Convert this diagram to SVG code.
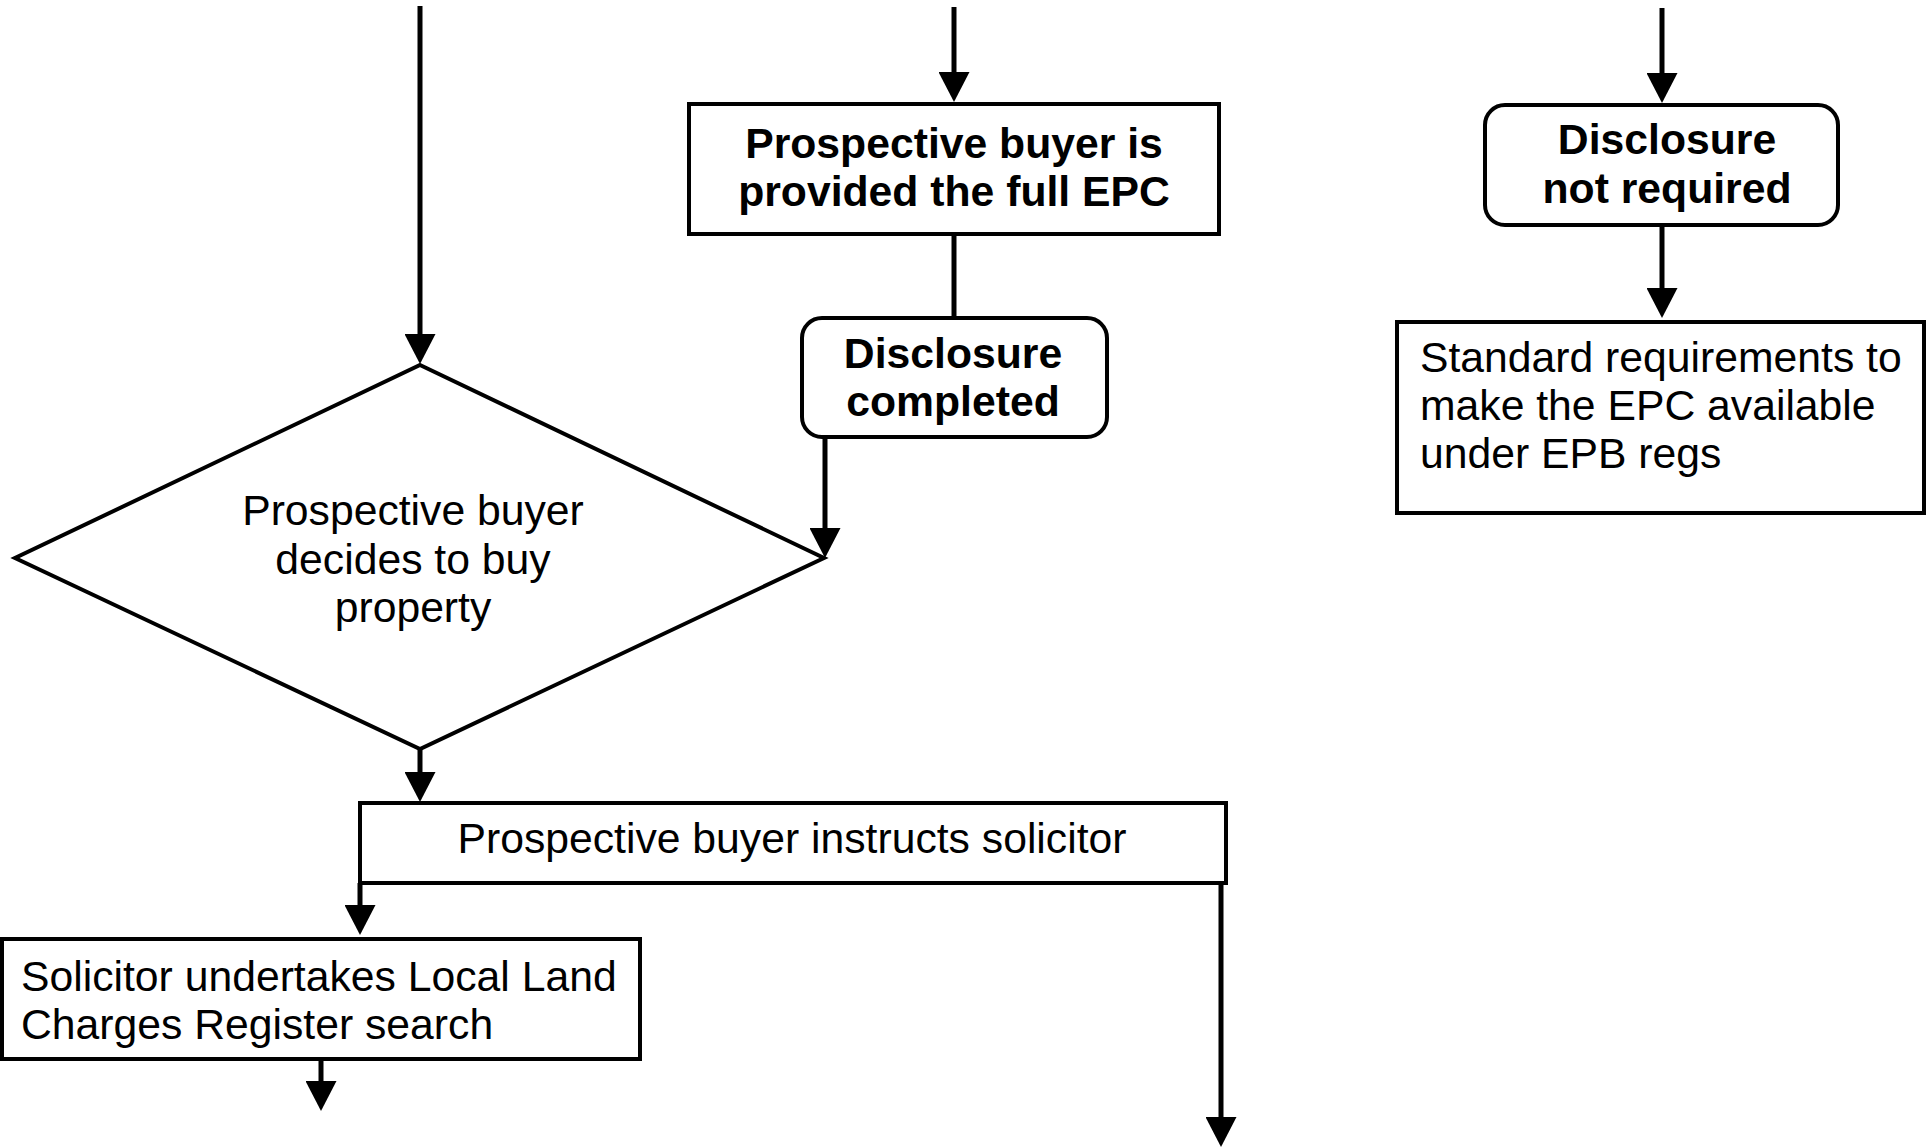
<svg xmlns="http://www.w3.org/2000/svg" width="1926" height="1148" viewBox="0 0 1926 1148">
<style>
.box{fill:#fff;stroke:#000;stroke-width:4}
.ln{fill:none;stroke:#000;stroke-width:5}
.t{font-family:"Liberation Sans",Arial,sans-serif;font-size:42.7px;fill:#000}
.b{font-weight:bold}
.c{text-anchor:middle}
</style>
<defs>
<marker id="ah" viewBox="0 0 30 31" refX="22" refY="15.5" markerWidth="30" markerHeight="31" markerUnits="userSpaceOnUse" orient="auto">
<path d="M0,0 L30,15.5 L0,31 Z" fill="#000"/>
</marker>
</defs>
<rect width="1926" height="1148" fill="#fff"/>
<g id="connectors">
<path class="ln" d="M420,6 V356" marker-end="url(#ah)"/>
<path class="ln" d="M954,7 V94" marker-end="url(#ah)"/>
<path class="ln" d="M1662,8 V95" marker-end="url(#ah)"/>
<path class="ln" d="M954,234 V317"/>
<path class="ln" d="M825,437 V550" marker-end="url(#ah)"/>
<path class="ln" d="M1662,226 V310" marker-end="url(#ah)"/>
<path class="ln" d="M420,749 V794" marker-end="url(#ah)"/>
<path class="ln" d="M360,883 V927" marker-end="url(#ah)"/>
<path class="ln" d="M1221,883 V1139" marker-end="url(#ah)"/>
<path class="ln" d="M321,1059 V1103" marker-end="url(#ah)"/>
</g>
<g id="n-full-epc">
<rect class="box" x="689" y="104" width="530" height="130"/>
<text class="t b c" x="954" y="158">Prospective buyer is</text>
<text class="t b c" x="954" y="206">provided the full EPC</text>
</g>
<g id="n-disclosure-completed">
<rect class="box" x="802" y="318" width="305" height="119" rx="20"/>
<text class="t b c" x="953" y="368">Disclosure</text>
<text class="t b c" x="953" y="416">completed</text>
</g>
<g id="n-disclosure-not-required">
<rect class="box" x="1485" y="105" width="353" height="120" rx="20"/>
<text class="t b c" x="1667" y="154">Disclosure</text>
<text class="t b c" x="1667" y="203">not required</text>
</g>
<g id="n-standard">
<rect class="box" x="1397" y="322" width="527" height="191"/>
<text class="t" x="1420" y="372">Standard requirements to</text>
<text class="t" x="1420" y="420">make the EPC available</text>
<text class="t" x="1420" y="468">under EPB regs</text>
</g>
<g id="n-decides">
<polygon class="box" points="420,365 824,558 420,749 15,558"/>
<text class="t c" x="413" y="525">Prospective buyer</text>
<text class="t c" x="413" y="574">decides to buy</text>
<text class="t c" x="413" y="622">property</text>
</g>
<g id="n-instructs">
<rect class="box" x="360" y="803" width="866" height="80"/>
<text class="t c" x="792" y="853">Prospective buyer instructs solicitor</text>
</g>
<g id="n-search">
<rect class="box" x="2" y="939" width="638" height="120"/>
<text class="t" x="21" y="991">Solicitor undertakes Local Land</text>
<text class="t" x="21" y="1039">Charges Register search</text>
</g>
</svg>
